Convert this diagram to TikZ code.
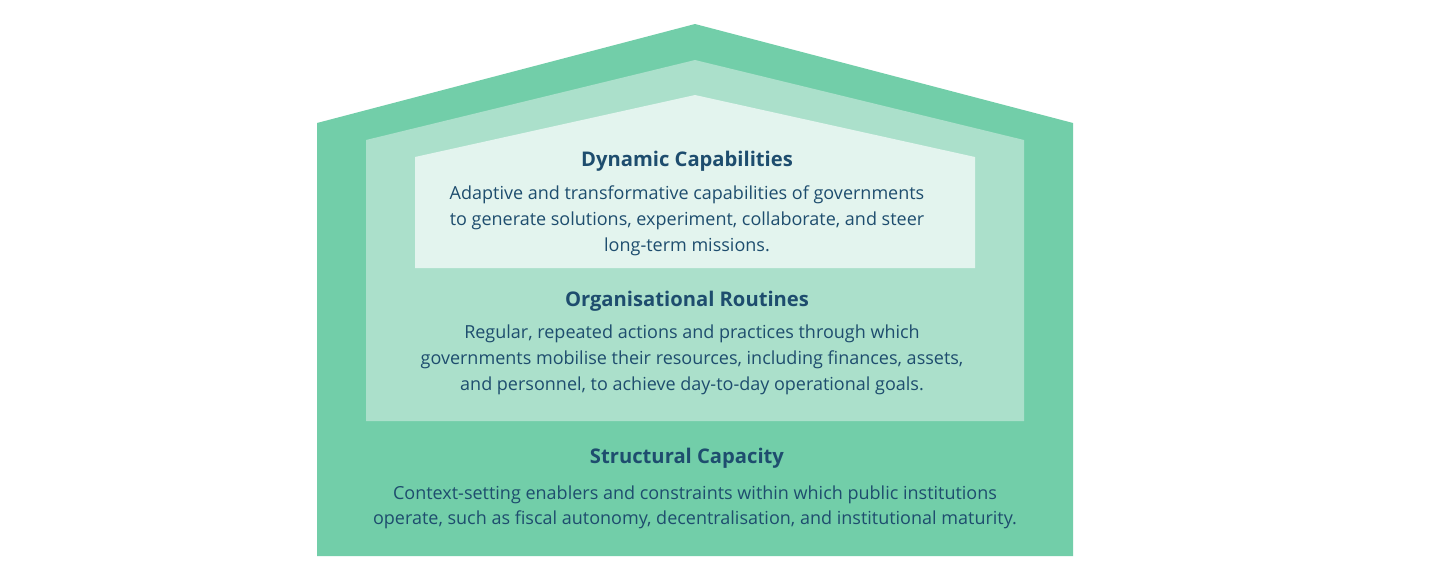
\documentclass[tikz,border=0pt]{standalone}
\usepackage{fontspec}
\setmainfont{Open Sans}
\definecolor{outerg}{HTML}{72CEA9}
\definecolor{midg}{HTML}{ABE0CB}
\definecolor{innerg}{HTML}{E3F4EE}
\definecolor{txt}{HTML}{1E4D6E}
\begin{document}
\begin{tikzpicture}[x=1pt,y=-1pt,
  ttl/.style={font=\fontsize{20.2}{24}\selectfont\bfseries, text=txt, inner sep=0pt},
  body/.style={font=\fontsize{18}{26}\selectfont, text=txt, align=center, inner sep=0pt}]
\useasboundingbox (0,0) rectangle (1430,587);
\fill[white] (0,0) rectangle (1430,587);
\fill[outerg] (317,556) -- (317,123) -- (695,24) -- (1073,123) -- (1073,556) -- cycle;
\fill[midg] (366,421) -- (366,140) -- (695,60) -- (1024,140) -- (1024,421) -- cycle;
\fill[innerg] (415,268) -- (415,157) -- (695,95) -- (975,157) -- (975,268) -- cycle;
\node[ttl] (dct) at (687,161) {Dynamic Capabilities};
\node[body, anchor=north] (dcb) at (687,185.5) {Adaptive and transformative capabilities of governments\\to generate solutions, experiment, collaborate, and steer\\long-term missions.};
\node[ttl] (ort) at (687,301) {Organisational Routines};
\node[body, anchor=north] (orb) at (692,324.5) {Regular, repeated actions and practices through which\\governments mobilise their resources, including finances, assets,\\and personnel, to achieve day-to-day operational goals.};
\node[ttl] (sct) at (687,458) {Structural Capacity};
\node[body, anchor=north, font=\fontsize{18}{25.5}\selectfont] (scb) at (695,485.5) {Context-setting enablers and constraints within which public institutions\\operate, such as fiscal autonomy, decentralisation, and institutional maturity.};
\end{tikzpicture}
\end{document}
